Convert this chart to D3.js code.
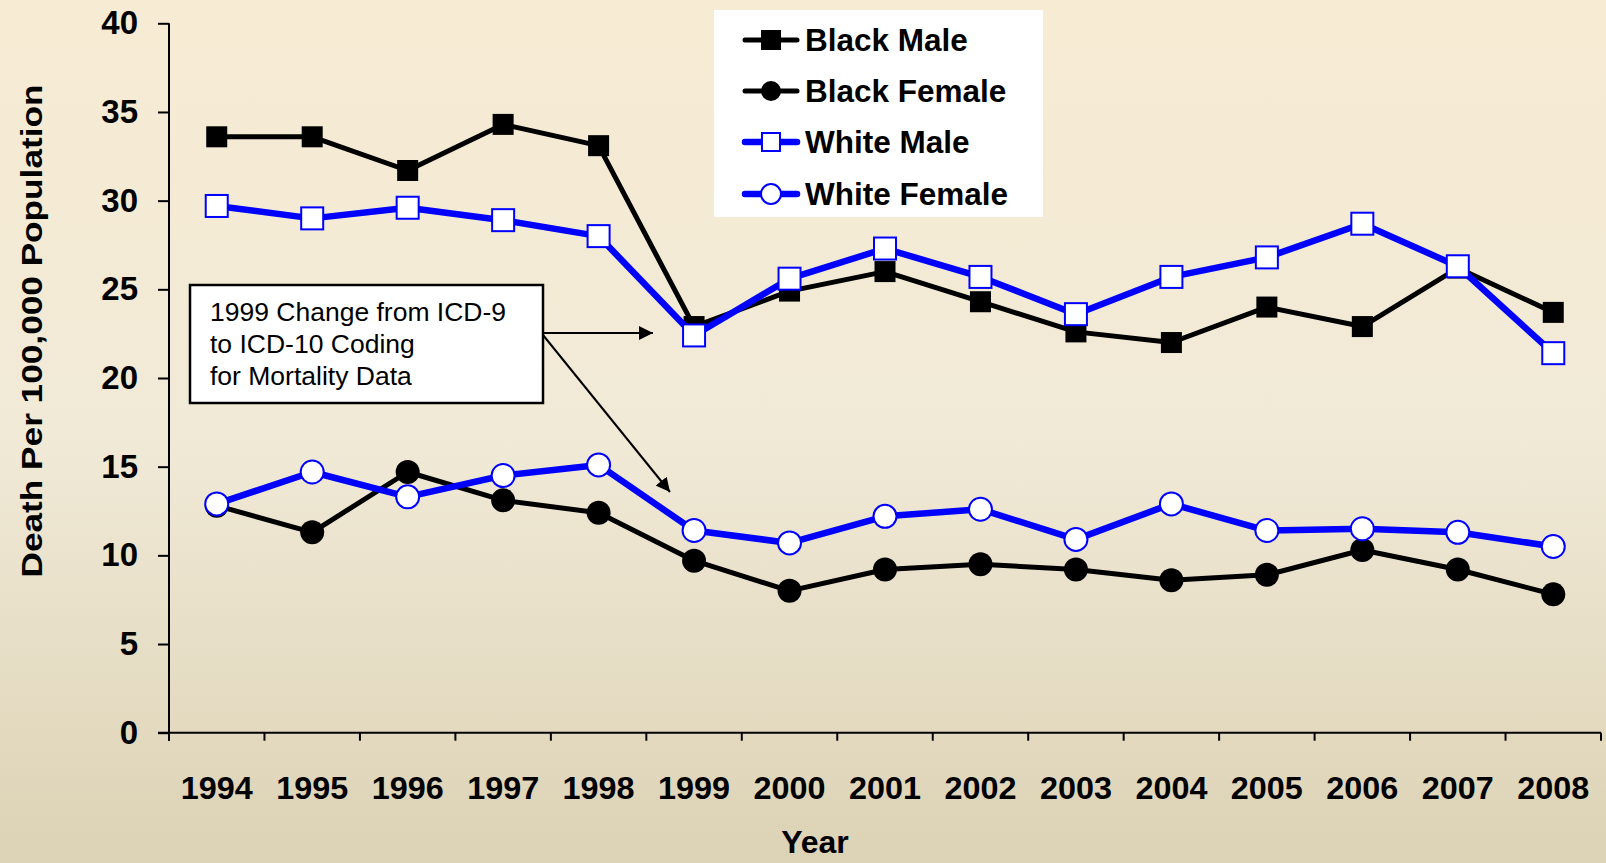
<!DOCTYPE html>
<html>
<head>
<meta charset="utf-8">
<script src="https://cdn.jsdelivr.net/npm/d3@7"></script>
<style>
  html, body { margin: 0; padding: 0; overflow: hidden; }
  svg { display: block; font-family: Arial, "Liberation Sans", sans-serif; }
</style>
</head>
<body>
<div class="d3-wrapper"></div>
<script>
const WIDTH = 1606, HEIGHT = 863;
const PLOT = { left: 169, right: 1601, top: 23.3, bottom: 732.7 };

const years = ['1994', '1995', '1996', '1997', '1998', '1999', '2000', '2001',
  '2002', '2003', '2004', '2005', '2006', '2007', '2008'];
const yTicks = [0, 5, 10, 15, 20, 25, 30, 35, 40];

const blackMale = [33.6, 33.6, 31.7, 34.3, 33.1, 22.9, 24.9, 26.0, 24.3, 22.6, 22.0, 24.0, 22.9, 26.2, 23.7];
const blackFemale = [12.8, 11.3, 14.7, 13.1, 12.4, 9.7, 8.0, 9.2, 9.5, 9.2, 8.6, 8.9, 10.3, 9.2, 7.8];
const whiteMale = [29.7, 29.0, 29.6, 28.9, 28.0, 22.4, 25.6, 27.3, 25.7, 23.6, 25.7, 26.8, 28.7, 26.3, 21.4];
const whiteFemale = [12.9, 14.7, 13.3, 14.5, 15.1, 11.4, 10.7, 12.2, 12.6, 10.9, 12.9, 11.4, 11.5, 11.3, 10.5];

const seriesNames = ['Black Male', 'Black Female', 'White Male', 'White Female'];
const noteLines = ['1999 Change from ICD-9', 'to ICD-10 Coding', 'for Mortality Data'];

const series = [
  { name: seriesNames[0], values: blackMale, color: '#000', shape: 'square', filled: true, width: 5 },
  { name: seriesNames[1], values: blackFemale, color: '#000', shape: 'circle', filled: true, width: 5 },
  { name: seriesNames[2], values: whiteMale, color: '#0000ff', shape: 'square', filled: false, width: 6.5 },
  { name: seriesNames[3], values: whiteFemale, color: '#0000ff', shape: 'circle', filled: false, width: 6.5 }
];

const xScale = d3.scaleBand().domain(years).range([PLOT.left, PLOT.right]).padding(0);
const yScale = d3.scaleLinear().domain([0, 40]).range([PLOT.bottom, PLOT.top]);
const xCenter = d => xScale(d) + xScale.bandwidth() / 2;

const svg = d3.select('.d3-wrapper').append('svg')
  .attr('width', WIDTH)
  .attr('height', HEIGHT);

// background gradient
const defs = svg.append('defs');
const grad = defs.append('linearGradient')
  .attr('id', 'bg')
  .attr('x1', 0).attr('y1', 0).attr('x2', 0).attr('y2', 1);
grad.append('stop').attr('offset', '0%').attr('stop-color', '#f7ebd3');
grad.append('stop').attr('offset', '50%').attr('stop-color', '#f1ead7');
grad.append('stop').attr('offset', '100%').attr('stop-color', '#dcd2b5');

defs.append('marker')
  .attr('id', 'arrow')
  .attr('viewBox', '0 0 10 10')
  .attr('refX', 10).attr('refY', 5)
  .attr('markerWidth', 7).attr('markerHeight', 7)
  .attr('markerUnits', 'strokeWidth')
  .attr('orient', 'auto')
  .append('path')
  .attr('d', 'M0,0 L10,5 L0,10 z')
  .attr('fill', '#000');

svg.append('rect')
  .attr('width', WIDTH)
  .attr('height', HEIGHT)
  .attr('fill', 'url(#bg)');

// y axis
const yAxis = d3.axisLeft(yScale).tickValues(yTicks)
  .tickSizeInner(11).tickSizeOuter(0).tickPadding(20);

const gy = svg.append('g')
  .attr('transform', `translate(${PLOT.left},0)`)
  .call(yAxis);
gy.select('.domain').attr('stroke-width', 2).attr('d', `M0,${PLOT.top}V${PLOT.bottom + 8}`);
gy.selectAll('.tick line').attr('stroke-width', 2);
gy.selectAll('.tick text')
  .attr('fill', '#000')
  .style('font-size', '33px')
  .style('font-weight', 'bold');

// x axis: labels in the bands, ticks on the band edges
const xAxis = d3.axisBottom(xScale).tickSize(0).tickPadding(44);
const gx = svg.append('g')
  .attr('transform', `translate(0,${PLOT.bottom})`)
  .call(xAxis);
gx.select('.domain').attr('stroke-width', 2).attr('d', `M${PLOT.left - 11},0H${PLOT.right}`);
gx.selectAll('.tick text')
  .attr('fill', '#000')
  .style('font-size', '31px')
  .style('font-weight', 'bold')
  .attr('textLength', 72)
  .attr('lengthAdjust', 'spacingAndGlyphs');

const edges = years.map(d => xScale(d)).concat([PLOT.right]);
gx.selectAll('.edge')
  .data(edges)
  .enter().append('line')
  .attr('class', 'edge')
  .attr('x1', d => d).attr('x2', d => d)
  .attr('y1', 0).attr('y2', 8)
  .attr('stroke', '#000')
  .attr('stroke-width', 2);

// axis titles
svg.append('text')
  .attr('transform', `translate(42,331) rotate(-90)`)
  .attr('text-anchor', 'middle')
  .style('font-size', '30px')
  .style('font-weight', 'bold')
  .attr('textLength', 493)
  .attr('lengthAdjust', 'spacingAndGlyphs')
  .text('Death Per 100,000 Population');

svg.append('text')
  .attr('x', 815)
  .attr('y', 853)
  .attr('text-anchor', 'middle')
  .style('font-size', '32px')
  .style('font-weight', 'bold')
  .text('Year');

// annotation box with arrows
svg.append('line')
  .attr('x1', 543).attr('y1', 333)
  .attr('x2', 653).attr('y2', 333)
  .attr('stroke', '#000').attr('stroke-width', 2)
  .attr('marker-end', 'url(#arrow)');
svg.append('line')
  .attr('x1', 543).attr('y1', 335)
  .attr('x2', 670).attr('y2', 492)
  .attr('stroke', '#000').attr('stroke-width', 2)
  .attr('marker-end', 'url(#arrow)');

svg.append('rect')
  .attr('x', 190).attr('y', 285)
  .attr('width', 353).attr('height', 118)
  .attr('fill', '#fff')
  .attr('stroke', '#000')
  .attr('stroke-width', 2.5);

svg.append('g').selectAll('text')
  .data(noteLines)
  .enter().append('text')
  .attr('x', 210)
  .attr('y', (d, i) => 321 + i * 32)
  .style('font-size', '26.5px')
  .text(d => d);

// series lines and markers
const line = d3.line()
  .x((d, i) => xCenter(years[i]))
  .y(d => yScale(d));

function drawMarker(g, s, cx, cy, big) {
  if (s.shape === 'square') {
    const size = s.filled ? (big ? 21 : 20) : (big ? 22 : 18);
    g.append('rect')
      .attr('x', cx - size / 2).attr('y', cy - size / 2)
      .attr('width', size).attr('height', size)
      .attr('fill', s.filled ? '#000' : '#fff')
      .attr('stroke', s.filled ? 'none' : s.color)
      .attr('stroke-width', 2);
  } else {
    const r = big ? (s.filled ? 12 : 11.5) : 10;
    g.append('circle')
      .attr('cx', cx).attr('cy', cy).attr('r', r)
      .attr('fill', s.filled ? '#000' : '#fff')
      .attr('stroke', s.filled ? 'none' : s.color)
      .attr('stroke-width', 2);
  }
}

series.forEach(s => {
  const g = svg.append('g');
  g.append('path')
    .datum(s.values)
    .attr('d', line)
    .attr('fill', 'none')
    .attr('stroke', s.color)
    .attr('stroke-width', s.width)
    .attr('stroke-linejoin', 'round');
  s.values.forEach((v, i) => drawMarker(g, s, xCenter(years[i]), yScale(v), true));
});

// legend
const legend = svg.append('g');
legend.append('rect')
  .attr('x', 714).attr('y', 10)
  .attr('width', 329).attr('height', 207)
  .attr('fill', '#fff');

const legendRows = [40, 91, 142, 194];
series.forEach((s, i) => {
  const g = legend.append('g');
  const cy = legendRows[i];
  g.append('line')
    .attr('x1', 745).attr('x2', 797)
    .attr('y1', cy).attr('y2', cy)
    .attr('stroke', s.color)
    .attr('stroke-width', s.width)
    .attr('stroke-linecap', 'round');
  drawMarker(g, s, 771, cy, false);
  g.append('text')
    .attr('x', 805)
    .attr('y', cy + 11)
    .style('font-size', '31.5px')
    .style('font-weight', 'bold')
    .text(s.name);
});
</script>
</body>
</html>
